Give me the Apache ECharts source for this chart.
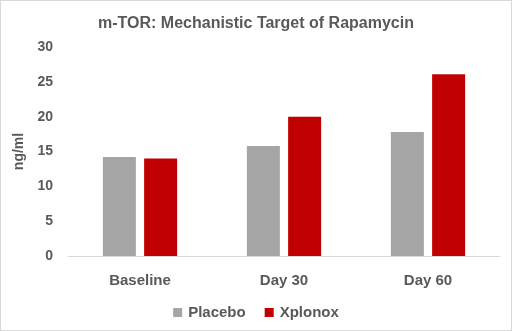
<!DOCTYPE html>
<html><head><meta charset="utf-8">
<script src="https://cdn.jsdelivr.net/npm/echarts@6/dist/echarts.min.js"></script>
<style>html,body{margin:0;padding:0;background:#fff}#c{width:510px;height:329px;border:1px solid #d9d9d9}</style>
</head><body><div id="c"></div>
<script>
const categories = ['Baseline', 'Day 30', 'Day 60'];
const placebo = [14.2, 15.8, 17.8];
const xplonox = [14.0, 20.0, 26.1];
const chart = echarts.init(document.getElementById('c'));
const font = 'Liberation Sans, Arial, sans-serif';
chart.setOption({
  animation: false,
  title: { text: 'm-TOR: Mechanistic Target of Rapamycin', left: 'center', top: 10,
    textStyle: { fontFamily: font, fontSize: 16, fontWeight: 'bold', color: '#595959' } },
  legend: { top: 299, left: 'center', itemWidth: 9, itemHeight: 9, itemGap: 19, icon: 'rect',
    textStyle: { fontFamily: font, fontSize: 15, fontWeight: 'bold', color: '#595959', padding: [0, 0, 0, 1] },
    data: ['Placebo', 'Xplonox'] },
  grid: { left: 67, right: 11, top: 46, bottom: 74 },
  xAxis: { type: 'category', data: categories,
    axisLine: { lineStyle: { color: '#d9d9d9' } }, axisTick: { show: false },
    axisLabel: { fontFamily: font, fontSize: 15, fontWeight: 'bold', color: '#595959', margin: 17 } },
  yAxis: { type: 'value', min: 0, max: 30, interval: 5, name: 'ng/ml', nameLocation: 'middle', nameGap: 34,
    nameTextStyle: { fontFamily: font, fontSize: 14, fontWeight: 'bold', color: '#595959' },
    splitLine: { show: false },
    axisLabel: { fontFamily: font, fontSize: 14, fontWeight: 'bold', color: '#595959', margin: 15 } },
  series: [
    { name: 'Placebo', type: 'bar', data: placebo, barWidth: 33, barGap: '25%', itemStyle: { color: '#a5a5a5' } },
    { name: 'Xplonox', type: 'bar', data: xplonox, barWidth: 33, itemStyle: { color: '#c00000' } }
  ]
});
</script></body></html>
